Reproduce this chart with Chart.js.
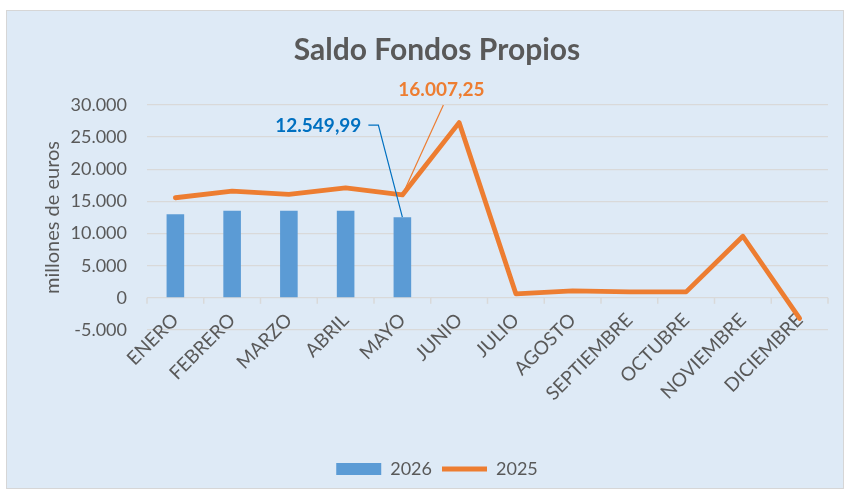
<!DOCTYPE html>
<html>
<head>
<meta charset="utf-8">
<script src="https://cdn.jsdelivr.net/npm/chart.js@4/dist/chart.umd.min.js"></script>
<style>
  html, body { margin: 0; padding: 0; background: #fff; }
  #wrap { position: relative; width: 850px; height: 492px; }
  #card {
    position: absolute; left: 6px; top: 10px; width: 838px; height: 479px;
    background: #DEEAF6; border: 1.5px solid #D6D6D6; box-sizing: border-box;
  }
  #chart { position: absolute; left: 0; top: 0; }
</style>
</head>
<body>
<div id="wrap">
  <div id="card"></div>
  <canvas id="chart" width="850" height="492"></canvas>
</div>
<script>
const months = ["ENERO", "FEBRERO", "MARZO", "ABRIL", "MAYO", "JUNIO", "JULIO",
  "AGOSTO", "SEPTIEMBRE", "OCTUBRE", "NOVIEMBRE", "DICIEMBRE"];
const saldo2026 = [12990, 13560, 13560, 13560, 12549.99, null, null, null, null, null, null, null];
const saldo2025 = [15570, 16590, 16080, 17110, 16007.25, 27260, 620, 1080, 930, 930, 9580, -3200];
const yTicks = [-5000, 0, 5000, 10000, 15000, 20000, 25000, 30000];
const labelIndex = 4; // MAYO

const grey = "#595959";
const font = "Lato";

// miles con punto, decimales con coma
function fmt(v, dec) {
  const neg = v < 0;
  const parts = Math.abs(v).toFixed(dec).split(".");
  const ints = parts[0].replace(/\B(?=(\d{3})+(?!\d))/g, ".");
  return (neg ? "-" : "") + ints + (parts[1] ? "," + parts[1] : "");
}

const extras = {
  id: "extras",
  afterDatasetsDraw(chart) {
    const c = chart.ctx;
    const xs = chart.scales.x, ys = chart.scales.y;

    // small tick marks under the zero line
    const y0 = ys.getPixelForValue(0);
    const step = xs.width / months.length;
    c.save();
    c.strokeStyle = "#D9D9D9";
    c.lineWidth = 1.5;
    for (let i = 0; i <= months.length; i++) {
      const x = xs.left + i * step;
      c.beginPath();
      c.moveTo(x, y0);
      c.lineTo(x, y0 + 6);
      c.stroke();
    }

    // callout for the 2026 bar
    const bar = chart.getDatasetMeta(0).data[labelIndex];
    c.font = "bold 19px " + font;
    c.textBaseline = "middle";
    c.fillStyle = "#0070C0";
    c.textAlign = "right";
    const by = bar.y - 91;
    c.fillText(fmt(saldo2026[labelIndex], 2), bar.x - 41, by);
    c.strokeStyle = "#0070C0";
    c.lineWidth = 1.2;
    c.beginPath();
    c.moveTo(bar.x - 34, by - 1);
    c.lineTo(bar.x - 24, by - 1);
    c.lineTo(bar.x, bar.y);
    c.stroke();

    // callout for the 2025 point
    const pt = chart.getDatasetMeta(1).data[labelIndex];
    c.fillStyle = "#ED7D31";
    c.textAlign = "center";
    c.fillText(fmt(saldo2025[labelIndex], 2), pt.x + 39, pt.y - 105);
    c.strokeStyle = "#ED7D31";
    c.beginPath();
    c.moveTo(pt.x + 41, pt.y - 90);
    c.lineTo(pt.x, pt.y);
    c.stroke();
    c.restore();
  }
};

new Chart(document.getElementById("chart"), {
  type: "bar",
  data: {
    labels: months,
    datasets: [
      {
        label: "2026",
        data: saldo2026,
        backgroundColor: "#5B9BD5",
        borderWidth: 0,
        barPercentage: 0.31,
        categoryPercentage: 1,
        pointStyle: "rect"
      },
      {
        type: "line",
        label: "2025",
        data: saldo2025,
        borderColor: "#ED7D31",
        backgroundColor: "#ED7D31",
        borderWidth: 4.8,
        borderCapStyle: "round",
        borderJoinStyle: "round",
        tension: 0,
        pointRadius: 0,
        pointHoverRadius: 0,
        pointStyle: "line"
      }
    ]
  },
  options: {
    responsive: false,
    animation: false,
    layout: { padding: { left: 46, right: 22, top: 0, bottom: 4 } },
    plugins: {
      title: {
        display: true,
        text: "Saldo Fondos Propios",
        color: grey,
        font: { family: font, size: 30, weight: "bold" },
        padding: { top: 32, bottom: 37 }
      },
      legend: {
        position: "bottom",
        labels: {
          usePointStyle: true,
          pointStyleWidth: 45,
          boxHeight: 12,
          color: grey,
          font: { family: font, size: 18 },
          padding: 10
        }
      },
      tooltip: { enabled: false }
    },
    scales: {
      x: {
        grid: { display: false },
        border: { display: false },
        ticks: {
          color: grey,
          font: { family: font, size: 19 },
          minRotation: 45,
          maxRotation: 45,
          padding: -29
        },
        afterFit(scale) {
          scale.height += 74;
          // labels sit partly above the axis box; don't clip them
          scale._computeLabelArea = () => undefined;
        }
      },
      y: {
        min: -5000,
        max: 30000,
        afterBuildTicks(scale) { scale.ticks = yTicks.map(v => ({ value: v })); },
        grid: { color: "#D9D9D9", lineWidth: 1.3, drawTicks: false },
        border: { display: false },
        ticks: {
          color: grey,
          font: { family: font, size: 18 },
          padding: 20,
          callback: v => fmt(v, 0)
        },
        title: {
          display: true,
          text: "millones de euros",
          color: grey,
          font: { family: font, size: 20, lineHeight: 0.7 },
          padding: { top: 0, bottom: 0 }
        },
        afterFit(scale) { scale.width = 101; }
      }
    }
  },
  plugins: [extras]
});
</script>
</body>
</html>
